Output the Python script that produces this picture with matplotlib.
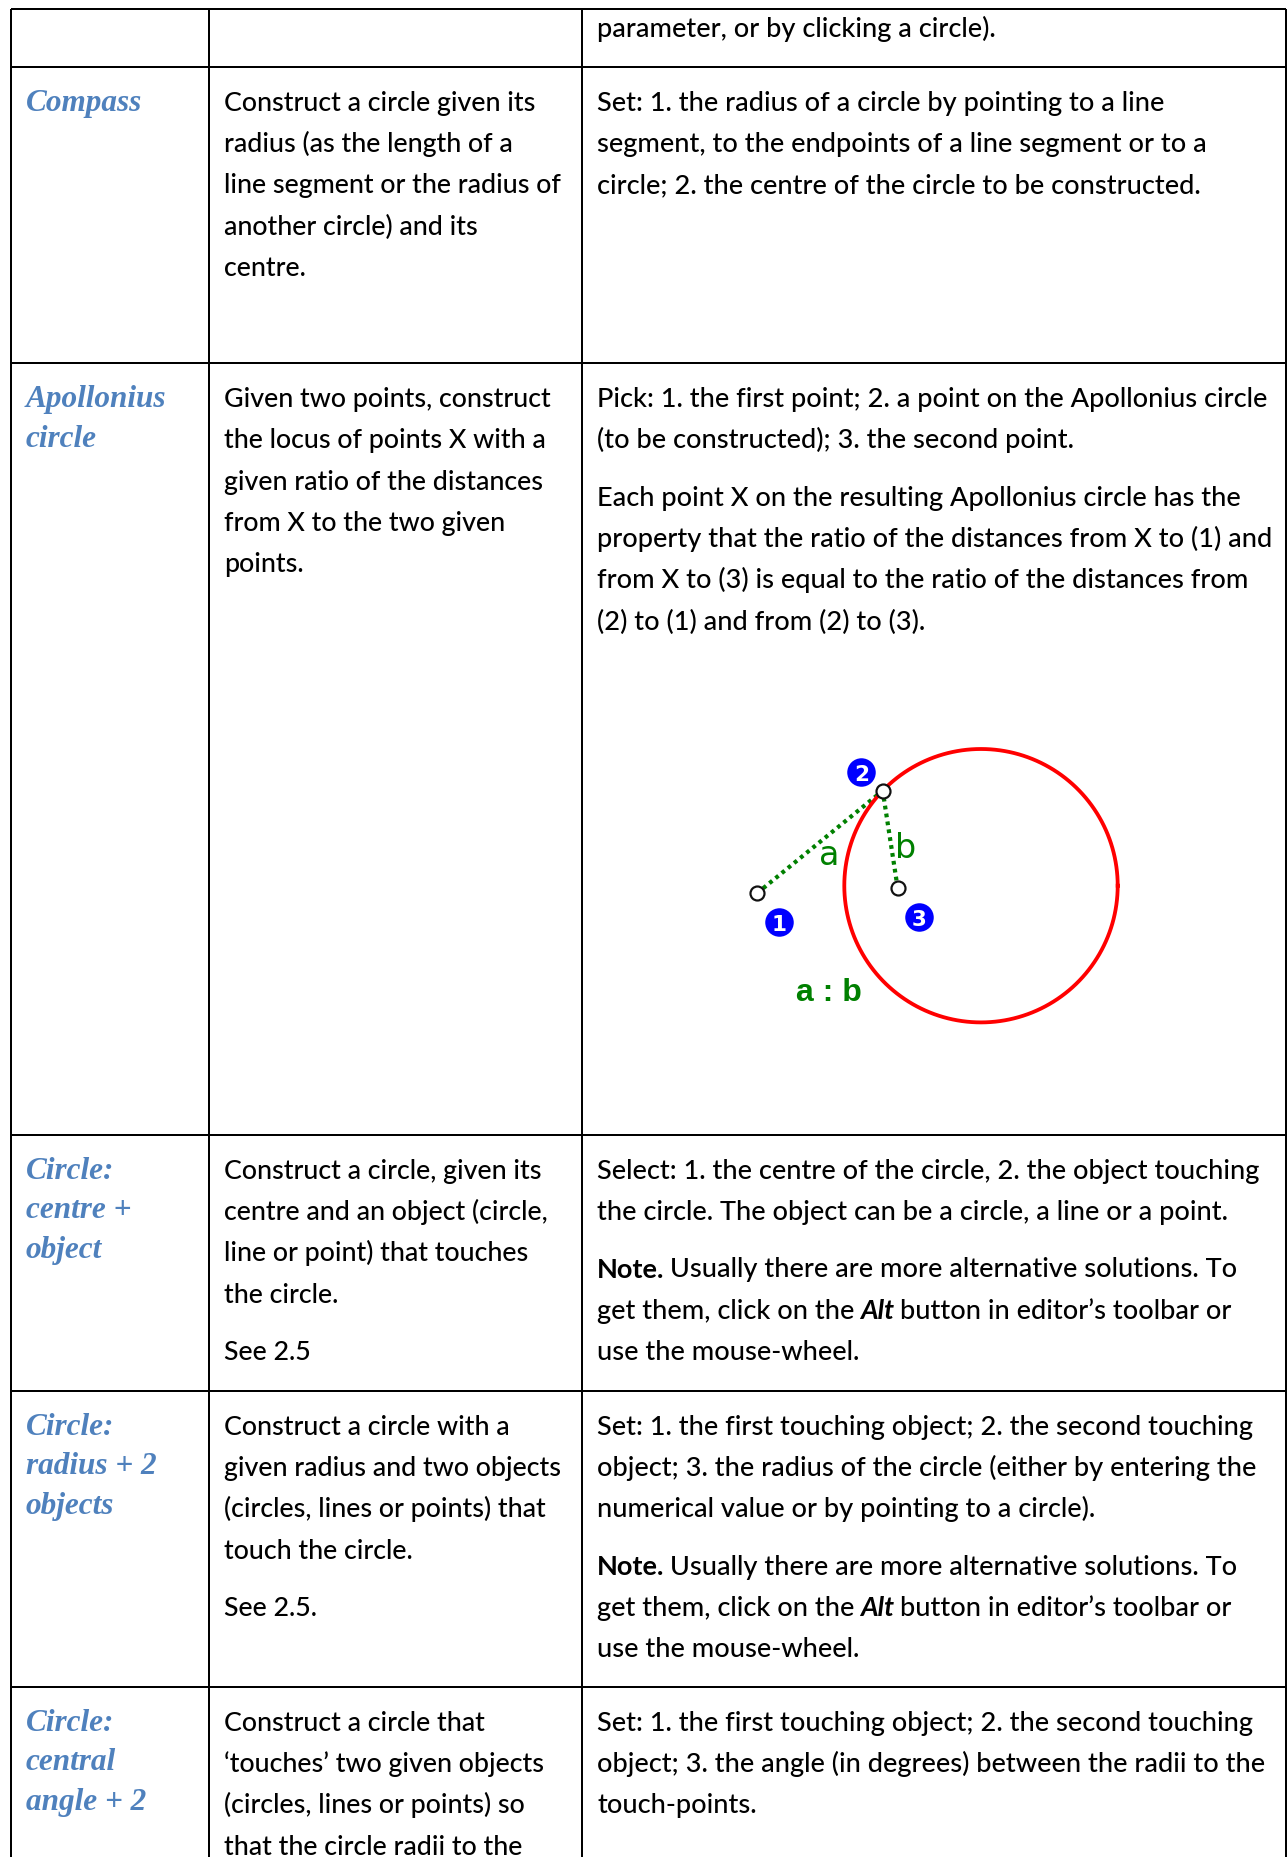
import re

import numpy as np
import matplotlib
matplotlib.use("Agg")
import matplotlib.pyplot as plt

W, H = 1287, 1858
BODY_PX = 26.8
ACTION_PX = 27.1
HEAD_PX = 31.3
LINE_STEP = 41.3
HEAD_STEP = 39.6
PARA_GAP = 16.2
PX = 0.72  # points per pixel at dpi 100

col_lines = [10.5, 209, 582, 1286]
row_lines = [9.7, 67.5, 363.7, 1135.5, 1391.5, 1687.5]
col_text = [25.5, 224, 597]
first_base = 43.2

headers = [
    [],
    ["Compass"],
    ["Apollonius", "circle"],
    ["Circle:", "centre +", "object"],
    ["Circle:", "radius + 2", "objects"],
    ["Circle:", "central", "angle + 2"],
]
# each cell is a list of paragraphs, each paragraph a list of lines
descriptions = [
    [],
    [["Construct a circle given its", "radius (as the length of a",
      "line segment or the radius of", "another circle) and its", "centre."]],
    [["Given two points, construct", "the locus of points X with a",
      "given ratio of the distances", "from X to the two given", "points."]],
    [["Construct a circle, given its", "centre and an object (circle,",
      "line or point) that touches", "the circle."], ["See 2.5"]],
    [["Construct a circle with a", "given radius and two objects",
      "(circles, lines or points) that", "touch the circle."], ["See 2.5."]],
    [["Construct a circle that", "‘touches’ two given objects",
      "(circles, lines or points) so", "that the circle radii to the"]],
]
note = ["<b>Note.</b> Usually there are more alternative solutions. To",
        "get them, click on the <i>Alt</i> button in editor’s toolbar or",
        "use the mouse-wheel."]
actions = [
    [["parameter, or by clicking a circle)."]],
    [["Set: 1. the radius of a circle by pointing to a line",
      "segment, to the endpoints of a line segment or to a",
      "circle; 2. the centre of the circle to be constructed."]],
    [["Pick: 1. the first point; 2. a point on the Apollonius circle",
      "(to be constructed); 3. the second point."],
     ["Each point X on the resulting Apollonius circle has the",
      "property that the ratio of the distances from X to (1) and",
      "from X to (3) is equal to the ratio of the distances from",
      "(2) to (1) and from (2) to (3)."]],
    [["Select: 1. the centre of the circle, 2. the object touching",
      "the circle. The object can be a circle, a line or a point."], note],
    [["Set: 1. the first touching object; 2. the second touching",
      "object; 3. the radius of the circle (either by entering the",
      "numerical value or by pointing to a circle)."], note],
    [["Set: 1. the first touching object; 2. the second touching",
      "object; 3. the angle (in degrees) between the radii to the",
      "touch-points."]],
]

# Apollonius diagram, picture pixels
pt_x = [757, 882.7, 897.7]
pt_y = [894.3, 791.7, 889.3]
badge_x = [779, 861.3, 919.3]
badge_y = [922.7, 773, 917.7]
badge_txt = ["1", "2", "3"]
circle_cx, circle_cy, circle_r = 981, 886.7, 136.7

fig = plt.figure(figsize=(W / 100, H / 100), dpi=100)
ax = fig.add_axes([0, 0, 1, 1])
ax.set_xlim(0, W)
ax.set_ylim(H, 0)
ax.axis("off")
renderer = fig.canvas.get_renderer()


def draw_line(x, y, line, size):
    # a line can hold <b> and <i> runs, measure each one to place the next
    parts = re.split(r"(<b>.*?</b>|<i>.*?</i>)", line)
    for part in parts:
        if not part.strip():
            continue
        weight, style = "medium", "normal"
        if part.startswith("<b>"):
            weight = "bold"
        if part.startswith("<i>"):
            weight, style = "bold", "italic"
        part = re.sub(r"</?[bi]>", "", part).strip()
        t = ax.text(x, y, part, family="Lato", fontsize=size * PX, weight=weight,
                    style=style, color="#000000", va="baseline", ha="left")
        x += t.get_window_extent(renderer).width + size * 0.22


def draw_cell(x, y, paragraphs, size):
    for para in paragraphs:
        for line in para:
            draw_line(x, y, line, size)
            y += LINE_STEP
        y += PARA_GAP


ax.hlines(row_lines, col_lines[0], col_lines[-1], color="black", lw=2 * PX)
ax.vlines(col_lines, row_lines[0], H, color="black", lw=2 * PX)

for i, top in enumerate(row_lines):
    base = top + first_base if i > 0 else 37
    for j, word in enumerate(headers[i]):
        ax.text(col_text[0], base + j * HEAD_STEP, word, family="Liberation Serif",
                fontsize=HEAD_PX * PX, weight="bold", style="italic", color="#4F81BD",
                va="baseline", ha="left")
    draw_cell(col_text[1], base, descriptions[i], BODY_PX)
    draw_cell(col_text[2], base, actions[i], ACTION_PX)

# diagram
dots = (0, (0.9, 1.0))
ax.plot([pt_x[0], pt_x[1]], [pt_y[0], pt_y[1]], color="#008000", lw=4.2 * PX, ls=dots, zorder=3)
ax.plot([pt_x[2], pt_x[1]], [pt_y[2], pt_y[1]], color="#008000", lw=4.2 * PX, ls=dots, zorder=3)
theta = np.linspace(0, 2 * np.pi, 361)
ax.plot(circle_cx + circle_r * np.cos(theta), circle_cy + circle_r * np.sin(theta),
        color="#FF0000", lw=3.8 * PX, zorder=4)
ax.scatter(pt_x, pt_y, s=(14 * PX) ** 2, facecolor="white", edgecolor="#111111",
           linewidth=2.2 * PX, zorder=5)
ax.scatter(badge_x, badge_y, s=(28.5 * PX) ** 2, color="#0000FF", linewidth=0, zorder=5)
for bx, by, s in zip(badge_x, badge_y, badge_txt):
    ax.text(bx, by, s, color="white", fontsize=15.5, family="DejaVu Sans", weight="bold",
            ha="center", va="center_baseline", zorder=6)
ax.text(829.3, 865, "a", color="#008000", fontsize=24, family="DejaVu Sans",
        ha="center", va="baseline", zorder=6)
ax.text(906, 858, "b", color="#008000", fontsize=24, family="DejaVu Sans",
        ha="center", va="baseline", zorder=6)
ax.text(829.3, 1001, "a : b", color="#008000", fontsize=23, family="Liberation Sans",
        weight="bold", ha="center", va="baseline", zorder=6)

fig.savefig("out.png", dpi=100, facecolor="white")
